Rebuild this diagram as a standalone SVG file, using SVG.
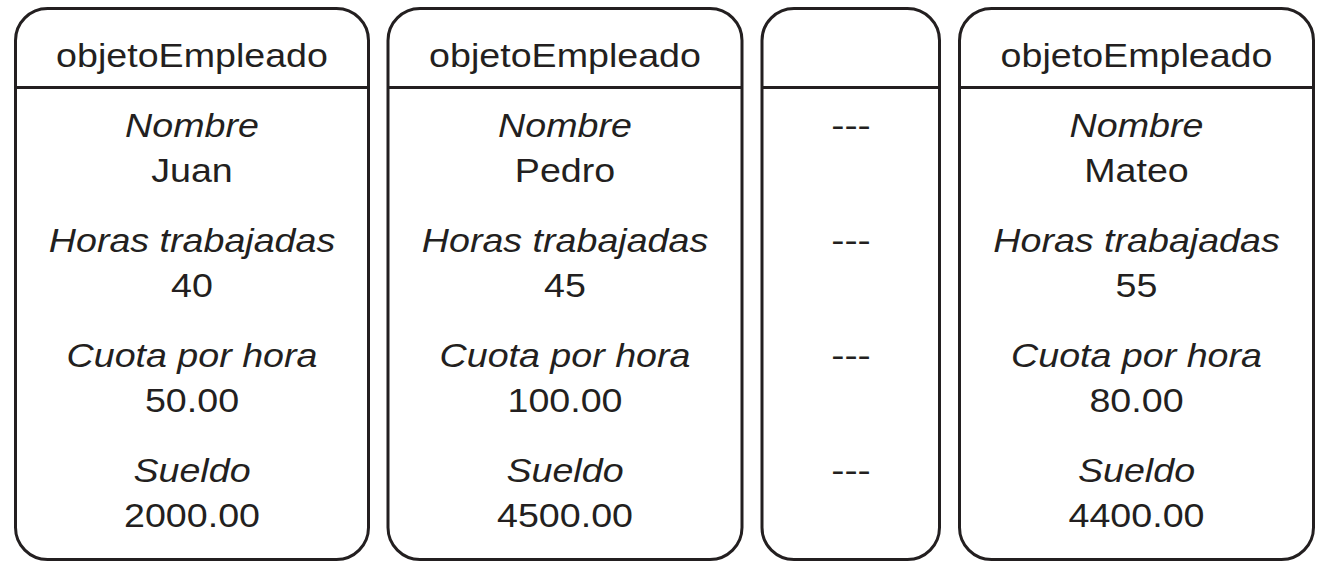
<svg xmlns="http://www.w3.org/2000/svg" width="1331" height="586" viewBox="0 0 1331 586">
<style>
.box{fill:#fff;stroke:#231f20;stroke-width:3}
.sep{stroke:#231f20;stroke-width:3}
text{font-family:"Liberation Sans",Arial,Helvetica,sans-serif;font-size:33px;fill:#231f20;text-anchor:middle}
.it{font-style:italic}
</style>
<rect width="1331" height="586" fill="#fff"/>
<g id="obj1">
<rect class="box" x="15.5" y="8.5" width="353" height="551" rx="32"/>
<line class="sep" x1="15.5" y1="87.5" x2="368.5" y2="87.5"/>
<text transform="translate(192,67) scale(1.14,1)">objetoEmpleado</text>
<text class="it" transform="translate(192,136.5) scale(1.14,1)">Nombre</text>
<text transform="translate(192,182) scale(1.14,1)">Juan</text>
<text class="it" transform="translate(192,251.5) scale(1.14,1)">Horas trabajadas</text>
<text transform="translate(192,297) scale(1.14,1)">40</text>
<text class="it" transform="translate(192,366.5) scale(1.14,1)">Cuota por hora</text>
<text transform="translate(192,412) scale(1.14,1)">50.00</text>
<text class="it" transform="translate(192,481.5) scale(1.14,1)">Sueldo</text>
<text transform="translate(192,527) scale(1.14,1)">2000.00</text>
</g>
<g id="obj2">
<rect class="box" x="388" y="8.5" width="354" height="551" rx="32"/>
<line class="sep" x1="388" y1="87.5" x2="742" y2="87.5"/>
<text transform="translate(565,67) scale(1.14,1)">objetoEmpleado</text>
<text class="it" transform="translate(565,136.5) scale(1.14,1)">Nombre</text>
<text transform="translate(565,182) scale(1.14,1)">Pedro</text>
<text class="it" transform="translate(565,251.5) scale(1.14,1)">Horas trabajadas</text>
<text transform="translate(565,297) scale(1.14,1)">45</text>
<text class="it" transform="translate(565,366.5) scale(1.14,1)">Cuota por hora</text>
<text transform="translate(565,412) scale(1.14,1)">100.00</text>
<text class="it" transform="translate(565,481.5) scale(1.14,1)">Sueldo</text>
<text transform="translate(565,527) scale(1.14,1)">4500.00</text>
</g>
<g id="obj3">
<rect class="box" x="762" y="8.5" width="177.5" height="551" rx="32"/>
<line class="sep" x1="762" y1="87.5" x2="939.5" y2="87.5"/>
<text transform="translate(851,136.5) scale(1.2,1)">---</text>
<text transform="translate(851,251.5) scale(1.2,1)">---</text>
<text transform="translate(851,366.5) scale(1.2,1)">---</text>
<text transform="translate(851,481.5) scale(1.2,1)">---</text>
</g>
<g id="obj4">
<rect class="box" x="959.5" y="8.5" width="354" height="551" rx="32"/>
<line class="sep" x1="959.5" y1="87.5" x2="1313.5" y2="87.5"/>
<text transform="translate(1136.5,67) scale(1.14,1)">objetoEmpleado</text>
<text class="it" transform="translate(1136.5,136.5) scale(1.14,1)">Nombre</text>
<text transform="translate(1136.5,182) scale(1.14,1)">Mateo</text>
<text class="it" transform="translate(1136.5,251.5) scale(1.14,1)">Horas trabajadas</text>
<text transform="translate(1136.5,297) scale(1.14,1)">55</text>
<text class="it" transform="translate(1136.5,366.5) scale(1.14,1)">Cuota por hora</text>
<text transform="translate(1136.5,412) scale(1.14,1)">80.00</text>
<text class="it" transform="translate(1136.5,481.5) scale(1.14,1)">Sueldo</text>
<text transform="translate(1136.5,527) scale(1.14,1)">4400.00</text>
</g>
<g id="connectors"/>
</svg>
